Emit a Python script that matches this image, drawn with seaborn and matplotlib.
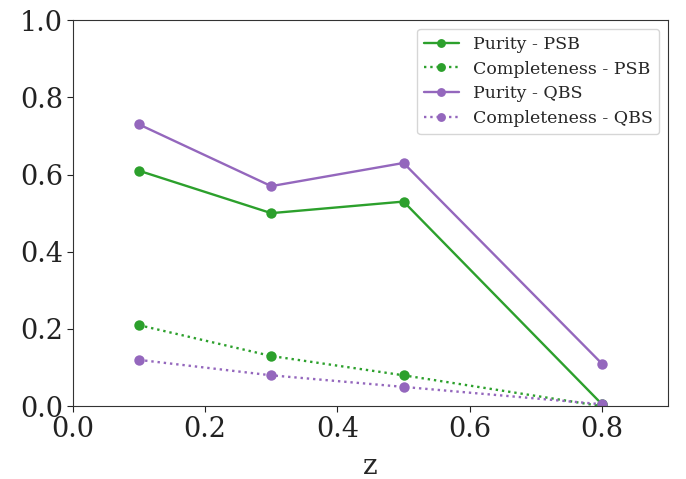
import matplotlib
matplotlib.use("Agg")
import matplotlib.pyplot as plt
import seaborn as sns
import pandas as pd

z = [0.1, 0.3, 0.5, 0.8]
purity_psb = [0.61, 0.50, 0.53, 0.005]
completeness_psb = [0.21, 0.13, 0.08, 0.0]
purity_qbs = [0.73, 0.57, 0.63, 0.11]
completeness_qbs = [0.12, 0.08, 0.05, 0.005]

sns.set_style("ticks")
plt.rcParams['font.family'] = ['DejaVu Serif']

green = '#2ca02c'
purple = '#9467bd'

fig = plt.figure(figsize=(6.86, 4.79), dpi=100)
ax = fig.add_axes([0.106, 0.152, 0.868, 0.806])

series = [
    ("Purity - PSB", purity_psb, green, '-'),
    ("Completeness - PSB", completeness_psb, green, ':'),
    ("Purity - QBS", purity_qbs, purple, '-'),
    ("Completeness - QBS", completeness_qbs, purple, ':'),
]
for label, vals, color, ls in series:
    df = pd.DataFrame({"z": z, "v": vals})
    sns.lineplot(data=df, x="z", y="v", ax=ax, color=color, linestyle=ls,
                 marker='o', markersize=7.5, markeredgewidth=0, linewidth=1.7,
                 label=label)

ax.set_xlim(0, 0.9)
ax.set_ylim(0, 1.0)
ax.set_xticks([0.0, 0.2, 0.4, 0.6, 0.8])
ax.set_yticks([0.0, 0.2, 0.4, 0.6, 0.8, 1.0])
ax.tick_params(labelsize=19.5, colors='#222222', length=4, pad=3)
ax.set_xlabel("z", fontsize=20, labelpad=7)
ax.set_ylabel("")
for s in ax.spines.values():
    s.set_visible(True)
    s.set_color('#333333')
ax.legend(loc='upper right', fontsize=12.5, frameon=True, markerscale=0.85,
          borderaxespad=0.5, labelspacing=0.45)

fig.savefig("out.png", dpi=100)
